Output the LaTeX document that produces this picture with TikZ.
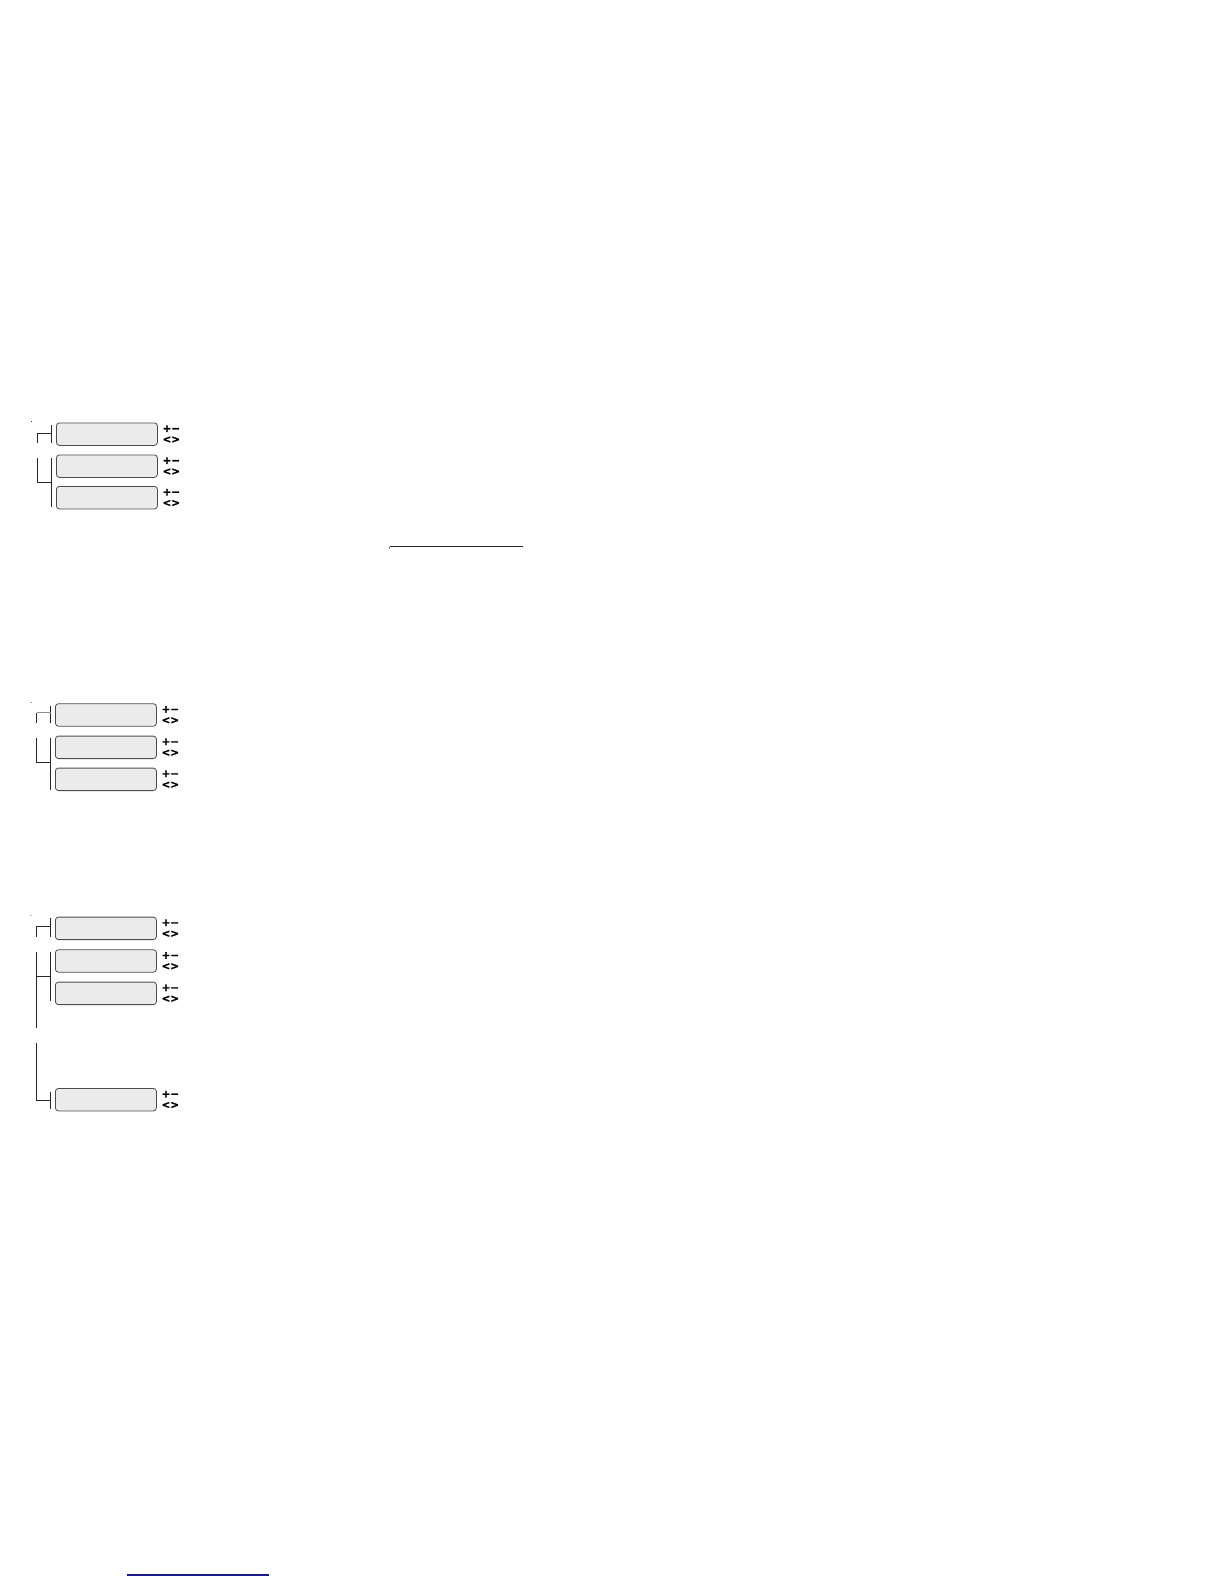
\documentclass[tikz,border=0pt]{standalone}
\usepackage{fontspec}
\setmainfont{DejaVu Sans}
\newfontfamily\ctlfont[FakeBold=1.6]{DejaVu Sans Bold}
\begin{document}
\begin{tikzpicture}[x=1pt,y=-1pt,
  field/.style={draw=black!70,line width=0.8pt,rounded corners=3pt,fill=black!8,minimum width=101pt,minimum height=22.5pt,inner sep=0pt,anchor=north west},
  ctl/.style={font=\ctlfont\fontsize{10.5}{10.5}\selectfont,inner sep=0pt},
  brk/.style={line width=0.9pt,black!85},
  dotmark/.style={fill=black,circle,inner sep=0pt,minimum size=1pt}]
\useasboundingbox (0,0) rectangle (1224,1584);

% ---------- group 1 ----------
\node[dotmark] (d1) at (31.5,421.5) {};
\foreach \n/\y in {a/422.5,b/454.5,c/486}{
  \node[field] (g1\n) at (56,\y) {};
  \node[ctl] (g1\n p) at ([xshift=13.5pt,yshift=5.5pt]g1\n.east) {+−};
  \node[ctl] (g1\n q) at ([xshift=13.5pt,yshift=-5.5pt]g1\n.east) {<>};
}
\coordinate (g1t1) at (51,425); \coordinate (g1t2) at (51,443);
\draw[brk] (g1t1) -- (g1t2);
\coordinate (g1h) at (51,433); \coordinate (g1v) at (37,433); \coordinate (g1e) at (37,442.5);
\draw[brk] (g1h) -- (g1v) -- (g1e);
\coordinate (g1s) at (37,457.5); \coordinate (g1m) at (37,482.5); \coordinate (g1n) at (51,482.5);
\draw[brk] (g1s) -- (g1m) -- (g1n);
\coordinate (g1u) at (51,457.5); \coordinate (g1w) at (51,507);
\draw[brk] (g1u) -- (g1w);

% ---------- group 2 ----------
\node[dotmark] (d2) at (31,702.3) {};
\foreach \n/\y in {a/703.3,b/735.7,c/767.7}{
  \node[field] (g2\n) at (55,\y) {};
  \node[ctl] (g2\n p) at ([xshift=13.5pt,yshift=5.5pt]g2\n.east) {+−};
  \node[ctl] (g2\n q) at ([xshift=13.5pt,yshift=-5.5pt]g2\n.east) {<>};
}
\coordinate (g2t1) at (50.7,705.7); \coordinate (g2t2) at (50.7,723);
\draw[brk] (g2t1) -- (g2t2);
\coordinate (g2h) at (50.7,712.7); \coordinate (g2v) at (36.5,712.7); \coordinate (g2e) at (36.5,723);
\draw[brk,black!45] (g2h) -- (g2v);
\draw[brk] (g2v) -- (g2e);
\coordinate (g2s) at (36.5,738); \coordinate (g2m) at (36.5,762.7); \coordinate (g2n) at (50.7,762.7);
\draw[brk] (g2s) -- (g2m) -- (g2n);
\coordinate (g2u) at (50.7,738); \coordinate (g2w) at (50.7,790);
\draw[brk] (g2u) -- (g2w);

% ---------- group 3 ----------
\node[dotmark] (d3) at (31,915) {};
\foreach \n/\y in {a/916.7,b/949.3,c/981.7,d/1088}{
  \node[field] (g3\n) at (55,\y) {};
  \node[ctl] (g3\n p) at ([xshift=13.5pt,yshift=5.5pt]g3\n.east) {+−};
  \node[ctl] (g3\n q) at ([xshift=13.5pt,yshift=-5.5pt]g3\n.east) {<>};
}
\coordinate (g3t1) at (50.7,918); \coordinate (g3t2) at (50.7,936.7);
\draw[brk] (g3t1) -- (g3t2);
\coordinate (g3h) at (50.7,926.7); \coordinate (g3v) at (36.7,926.7); \coordinate (g3e) at (36.7,936.7);
\draw[brk] (g3h) -- (g3v) -- (g3e);
\coordinate (g3s) at (36.7,951.7); \coordinate (g3x) at (36.7,1028.3);
\draw[brk] (g3s) -- (g3x);
\coordinate (g3m) at (36.7,976); \coordinate (g3n) at (50.7,976);
\draw[brk] (g3m) -- (g3n);
\coordinate (g3u) at (50.7,951.7); \coordinate (g3w) at (50.7,1000.7);
\draw[brk] (g3u) -- (g3w);
\coordinate (g3r) at (36.7,1042.7); \coordinate (g3b) at (36.7,1100); \coordinate (g3c) at (50.7,1100);
\draw[brk] (g3r) -- (g3b) -- (g3c);
\coordinate (g3k) at (50.7,1091.7); \coordinate (g3l) at (50.7,1109);
\draw[brk] (g3k) -- (g3l);

% ---------- rules ----------
\coordinate (r1a) at (390,546.7); \coordinate (r1b) at (523.3,546.7);
\draw[line width=1pt,black!85] (r1a) -- (r1b);
\coordinate (r1t) at (389,549);
\draw[line width=0.6pt,black!70] (r1a) -- (r1t);
\definecolor{navyrule}{RGB}{26,26,140}
\coordinate (r2a) at (126.7,1575); \coordinate (r2b) at (269.3,1575);
\draw[line width=1.1pt,navyrule] (r2a) -- (r2b);
\end{tikzpicture}
\end{document}
